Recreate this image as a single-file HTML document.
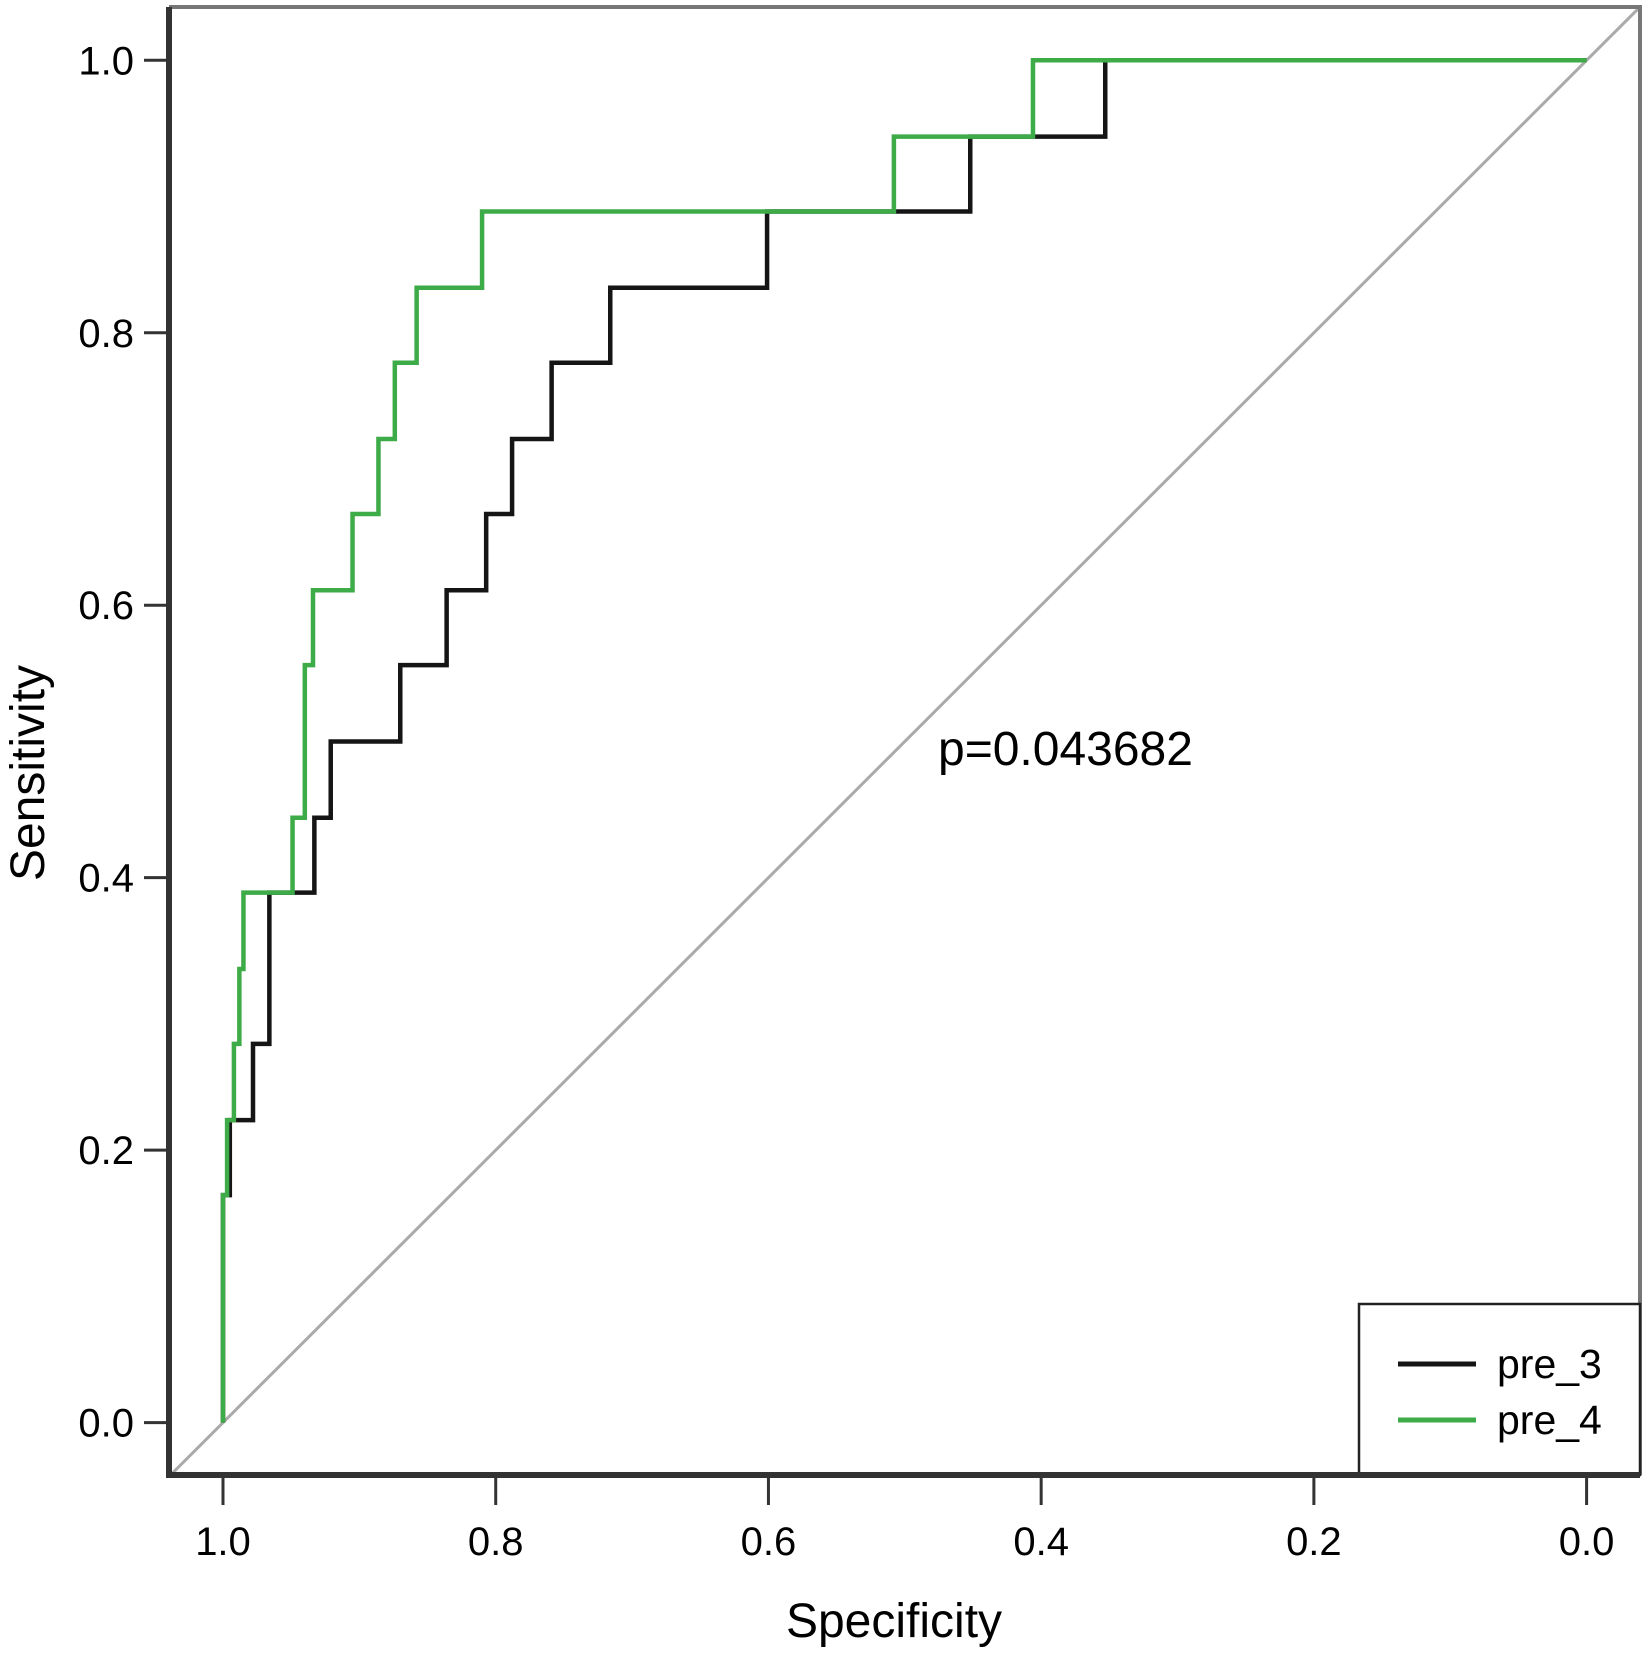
<!DOCTYPE html>
<html><head><meta charset="utf-8"><style>
html,body{margin:0;padding:0;background:#fff;width:1650px;height:1660px;overflow:hidden}
svg{display:block}
text{font-family:"Liberation Sans",Arial,sans-serif;fill:#000}
</style></head><body>
<svg id="chart" width="1650" height="1660" viewBox="0 0 1650 1660" xmlns="http://www.w3.org/2000/svg">
<g id="plot"></g>
</svg>
<script>
const xTicks = [1.0, 0.8, 0.6, 0.4, 0.2, 0.0];
const xTickLabels = ["1.0", "0.8", "0.6", "0.4", "0.2", "0.0"];
const yTicks = [0.0, 0.2, 0.4, 0.6, 0.8, 1.0];
const yTickLabels = ["0.0", "0.2", "0.4", "0.6", "0.8", "1.0"];
const pre3Spec = [1.0, 0.995, 0.978, 0.966, 0.933, 0.921, 0.870, 0.836, 0.807, 0.788, 0.759, 0.716, 0.601, 0.452, 0.353];
const pre3Sens = [0.167, 0.222, 0.278, 0.389, 0.444, 0.5, 0.556, 0.611, 0.667, 0.722, 0.778, 0.833, 0.889, 0.944, 1.0];
const pre4Spec = [1.0, 0.997, 0.992, 0.988, 0.985, 0.949, 0.940, 0.934, 0.905, 0.886, 0.874, 0.858, 0.810, 0.508, 0.406];
const pre4Sens = [0.167, 0.222, 0.278, 0.333, 0.389, 0.444, 0.556, 0.611, 0.667, 0.722, 0.778, 0.833, 0.889, 0.944, 1.0];
const pValue = "p=0.043682";

const NS = "http://www.w3.org/2000/svg";
const g = document.getElementById("plot");
const box = {l:169, t:7, r:1640, b:1475};
function xs(s){ return 1586.6 - s*1363.6; }
function ys(v){ return 1422.6 - v*1362.3; }
function mk(tag, attrs){ const e=document.createElementNS(NS,tag); for(const k in attrs) e.setAttribute(k,attrs[k]); g.appendChild(e); return e; }

const dx0 = box.l, dy0 = ys(1 - (1586.6 - box.l)/1363.6);
const d = mk("line",{x1:dx0,y1:dy0,x2:xs(0),y2:ys(1),stroke:"#aaaaaa","stroke-width":3});


const d2 = mk("line",{x1:xs(0),y1:ys(1),x2:box.r,y2:ys(1 + (box.r - xs(0))/1363.6),stroke:"#aaaaaa","stroke-width":3});



function stepPath(spec, sens){
  let p = "M"+xs(1)+","+ys(0);
  for(let i=0;i<spec.length;i++){
    p += " L"+xs(spec[i])+","+(i==0?ys(0):ys(sens[i-1]));
    p += " L"+xs(spec[i])+","+ys(sens[i]);
  }
  p += " L"+xs(0)+","+ys(sens[sens.length-1]);
  return p;
}
const l3 = mk("path",{d:stepPath(pre3Spec,pre3Sens),fill:"none",stroke:"#151515","stroke-width":4.5,"stroke-linejoin":"miter"});


const l4 = mk("path",{d:stepPath(pre4Spec,pre4Sens),fill:"none",stroke:"#3dab47","stroke-width":4.5,"stroke-linejoin":"miter"});



const bt = mk("path",{d:`M${box.l},${box.t} L${box.r},${box.t} L${box.r},${box.b}`,fill:"none",stroke:"#777","stroke-width":4});


const ax = mk("path",{d:`M${box.l},${box.t} L${box.l},${box.b} L${box.r},${box.b}`,fill:"none",stroke:"#333","stroke-width":6});



xTicks.forEach((t,i)=>{
  const tk = mk("line",{x1:xs(t),y1:box.b,x2:xs(t),y2:box.b+30,stroke:"#333","stroke-width":3});
  
  
  const tx = mk("text",{x:xs(t),y:1555,"font-size":40,"text-anchor":"middle"});
  tx.textContent = xTickLabels[i];
  
  
});
yTicks.forEach((t,i)=>{
  const tk = mk("line",{x1:144,y1:ys(t),x2:box.l,y2:ys(t),stroke:"#333","stroke-width":3});
  
  
  const tx = mk("text",{x:134,y:ys(t)+14,"font-size":40,"text-anchor":"end"});
  tx.textContent = yTickLabels[i];
  
  
});

const xt = mk("text",{x:894,y:1637,"font-size":48,"text-anchor":"middle"});
xt.textContent = "Specificity";


const yt = mk("text",{x:0,y:0,"font-size":48,"text-anchor":"middle",transform:"translate(44,773) rotate(-90)"});
yt.textContent = "Sensitivity";


const pt = mk("text",{x:938,y:765,"font-size":48});
pt.textContent = pValue;



const lb = mk("rect",{x:1359,y:1304,width:box.r-1359,height:box.b-1304,fill:"#fff",stroke:"#222","stroke-width":2.5});


const leg = [["pre_3","#151515",1364],["pre_4","#3dab47",1420]];
leg.forEach(e=>{
  const ln = mk("line",{x1:1398,y1:e[2],x2:1476,y2:e[2],stroke:e[1],"stroke-width":5});
  
  
  const tx = mk("text",{x:1497,y:e[2]+14,"font-size":41});
  tx.textContent = e[0];
  
  
});
const bb = mk("line",{x1:box.l,y1:box.b,x2:box.r,y2:box.b,stroke:"#333","stroke-width":6});


</script>
</body></html>
